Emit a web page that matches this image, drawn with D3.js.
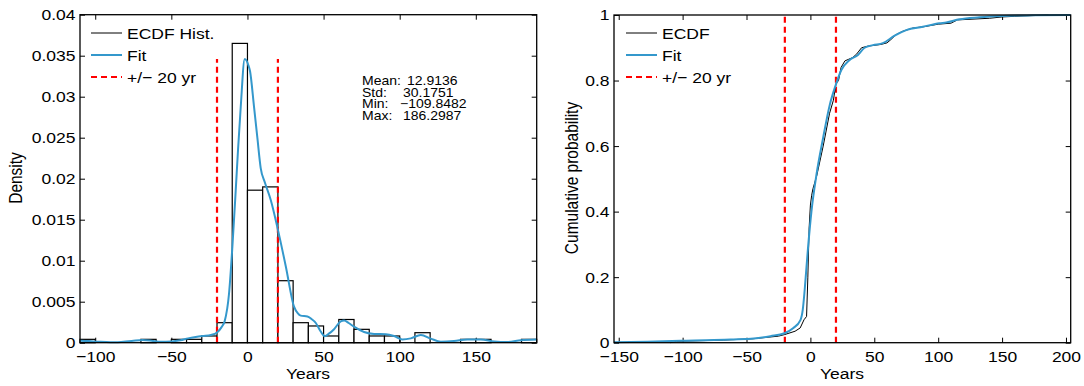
<!DOCTYPE html>
<html>
<head>
<meta charset="utf-8">
<script src="https://cdn.jsdelivr.net/npm/d3@7"></script>
<style>
  body { margin: 0; background: #fff; }
  text { font-family: "Liberation Sans", Arial, Helvetica, sans-serif; fill: #000; }
</style>
</head>
<body>
<svg id="fig" width="1084" height="386"></svg>
<script>
// ---- data ----
var binStart = [-110, -100, -90, -80, -70, -60, -50, -40, -30, -20, -10, 0, 10, 20, 30,
                40, 50, 60, 70, 80, 90, 100, 110, 120, 130, 140, 150, 160, 170, 180];
var binDensity = [0.00041, 0, 0, 0, 0.00041, 0, 0.00041, 0.00041, 0.00082, 0.00244,
                  0.0365, 0.0186, 0.0190, 0.00756, 0.00244, 0.00204, 0.00082, 0.00283, 0.00163, 0.00082,
                  0.00082, 0, 0.00122, 0, 0, 0.00041, 0.00041, 0, 0, 0.00041];
var binWidth = 10;

var fitYears = [-110, -104, -98, -90, -83, -76, -69, -63, -57, -50, -44, -39, -34, -29.6, -24,
                -20, -17, -15, -12.1, -9.9, -7.7, -6.2, -4.4, -1.8, 0.5, 1.7, 4.3, 6.5, 8.7, 11.5,
                15.3, 20.1, 25.2, 30.6, 33, 35, 39.4, 42, 44.9, 48, 50.8, 53.5, 56.9, 61.3, 63.5,
                66.5, 70, 76.6, 83.2, 90.9, 96.3, 101.8, 107.3, 113.9, 120.4, 127, 135.7, 144.5,
                153.3, 162, 170.8, 179.6, 190];
var fitDensity = [0.00025, 0.0002, 0.00012, 0.00005, 0.0001, 0.0002, 0.00033, 0.00025, 0.00012, 0.00015,
                  0.0003, 0.00053, 0.0007, 0.00082, 0.00095, 0.00125, 0.0019, 0.0026, 0.006, 0.0117,
                  0.0186, 0.0235, 0.0288, 0.0346, 0.0339, 0.0331, 0.0288, 0.025, 0.0213, 0.0195,
                  0.0174, 0.0137, 0.0093, 0.0044, 0.0036, 0.0033, 0.0032, 0.0029, 0.0024, 0.0014,
                  0.0008, 0.0011, 0.00165, 0.0026, 0.0027, 0.0024, 0.00195, 0.0013, 0.00106, 0.00104,
                  0.00082, 0.0004, 0.00053, 0.00094, 0.0005, 0.00012, 0.0002, 0.0004, 0.0004, 0.00015,
                  0.00008, 0.0003, 0.0004];

var ecdfYears = [-109.8, -105, -68, -45, -35, -25, -20, -12, -8, -5, -3, -2, -1, 0, 1, 2, 5, 10, 15, 18,
                 20, 22, 24, 27, 30, 33, 36, 38, 40, 45, 55, 60, 63, 67, 72, 80, 90, 100, 110, 115,
                 140, 150, 160, 186.3];
var ecdfProb = [0, 0.004, 0.008, 0.012, 0.016, 0.02, 0.025, 0.035, 0.045, 0.07, 0.08, 0.2, 0.35, 0.42,
                0.45, 0.47, 0.51, 0.6, 0.7, 0.74, 0.79, 0.8, 0.84, 0.86, 0.865, 0.87, 0.88, 0.89, 0.9,
                0.905, 0.91, 0.915, 0.925, 0.94, 0.95, 0.96, 0.965, 0.972, 0.975, 0.985, 0.99, 0.994,
                0.996, 1.0];

var cdfYears = [-153.7, -127.6, -101.6, -75.5, -62.5, -44.3, -31.3, -20.3, -13.6, -7.8, -6, -4.5, -1.9,
                0.8, 4.7, 9.9, 15.1, 19.8, 24.2, 30.7, 37.2, 42.4, 48.9, 56.7, 65.9, 75, 88, 101,
                106.3, 116.6, 132.3, 150.5, 173.7, 203.7];
var cdfProb = [0.001, 0.003, 0.006, 0.008, 0.010, 0.013, 0.02, 0.0287, 0.044, 0.069, 0.1, 0.16, 0.288,
               0.40, 0.512, 0.624, 0.725, 0.786, 0.832, 0.863, 0.878, 0.90, 0.908, 0.914, 0.937, 0.954,
               0.964, 0.975, 0.977, 0.987, 0.993, 0.997, 0.999, 1.0];

var bandYears = [-20, 20];
var statLabels = ["Mean:", "Std:", "Min:", "Max:"];
var statValues = ["12.9136", "30.1751", "\u2212109.8482", "186.2987"];

var histXTicks = [-100, -50, 0, 50, 100, 150];
var histYTicks = [0, 0.005, 0.01, 0.015, 0.02, 0.025, 0.03, 0.035, 0.04];
var cdfXTicks = [-150, -100, -50, 0, 50, 100, 150, 200];
var cdfYTicks = [0, 0.2, 0.4, 0.6, 0.8, 1];

var histLegend = ["ECDF Hist.", "Fit", "+/\u2212 20 yr"];
var cdfLegend = ["ECDF", "Fit", "+/\u2212 20 yr"];

// ---- styling ----
var sx = 1.13;   // the reference figure is stretched horizontally
var blue = "#3498cc", red = "#ff0000";
var tickFont = 15.5;

var svg = d3.select("#fig");

function numFmt(d) {
  return d < 0 ? "\u2212" + Math.abs(d) : String(+d.toFixed(3));
}

function frame(x, y, xt, yt) {
  var g = svg.append("g");
  var x0 = x.range()[0], x1 = x.range()[1], y0 = y.range()[0], y1 = y.range()[1];

  g.append("g").attr("transform", `translate(0,${y0})`)
    .call(d3.axisBottom(x).tickValues(xt).tickSize(-5).tickSizeOuter(0).tickPadding(8).tickFormat(numFmt));
  g.append("g").attr("transform", `translate(0,${y1})`)
    .call(d3.axisTop(x).tickValues(xt).tickSize(-5).tickSizeOuter(0).tickFormat(""));
  g.append("g").attr("transform", `translate(${x0},0)`)
    .call(d3.axisLeft(y).tickValues(yt).tickSize(-5).tickSizeOuter(0).tickPadding(4).tickFormat(numFmt));
  g.append("g").attr("transform", `translate(${x1},0)`)
    .call(d3.axisRight(y).tickValues(yt).tickSize(-5).tickSizeOuter(0).tickFormat(""));

  g.selectAll(".domain").remove();
  g.selectAll(".tick line").attr("stroke", "#000").attr("stroke-width", 1);
  g.selectAll(".tick text")
    .style("font-size", tickFont + "px")
    .attr("fill", "#000")
    .attr("transform", `scale(${sx},1)`);
  return g;
}

function border(x, y) {
  svg.append("rect")
    .attr("x", x.range()[0]).attr("y", y.range()[1])
    .attr("width", x.range()[1] - x.range()[0])
    .attr("height", y.range()[0] - y.range()[1])
    .attr("fill", "none").attr("stroke", "#000").attr("stroke-width", 1.3);
}

function label(txt, px, py, size, rotate, anchor) {
  svg.append("text")
    .attr("transform", `translate(${px},${py}) scale(${sx},1)` + (rotate ? " rotate(-90)" : ""))
    .attr("text-anchor", anchor || "middle")
    .style("font-size", size + "px")
    .text(txt);
}

function legend(names, lx, ly) {
  var rows = [{stroke: "#000", w: 1, dash: null},
              {stroke: blue, w: 2, dash: null},
              {stroke: red, w: 2, dash: "6,4"}];
  rows.forEach(function(r, i) {
    var yy = ly + i * 22;
    svg.append("line")
      .attr("x1", lx).attr("x2", lx + 31).attr("y1", yy).attr("y2", yy)
      .attr("stroke", r.stroke).attr("stroke-width", r.w)
      .attr("stroke-dasharray", r.dash);
    label(names[i], lx + 36, yy + 5.5, tickFont, false, "start");
  });
}

// ================= left: histogram =================
var xH = d3.scaleLinear().domain([-110, 190]).range([80, 536.7]);
var yH = d3.scaleLinear().domain([0, 0.04]).range([342.7, 14.7]);

var bins = binStart.map((s, i) => ({start: s, d: binDensity[i]}));

frame(xH, yH, histXTicks, histYTicks);

svg.append("g").selectAll("rect")
  .data(bins.filter(b => b.d > 0))
  .enter()
  .append("rect")
  .attr("x", b => xH(b.start))
  .attr("width", b => xH(b.start + binWidth) - xH(b.start))
  .attr("y", b => yH(b.d))
  .attr("height", b => yH(0) - yH(b.d))
  .attr("fill", "#fff")
  .attr("stroke", "#000")
  .attr("stroke-width", 1.2);

var fitPeak = d3.max(fitDensity);
svg.append("g").selectAll("line")
  .data(bandYears)
  .enter()
  .append("line")
  .attr("x1", d => xH(d)).attr("x2", d => xH(d))
  .attr("y1", yH(0)).attr("y2", yH(fitPeak))
  .attr("stroke", red).attr("stroke-width", 2.2)
  .attr("stroke-dasharray", "6,4");

var fitLine = d3.line()
  .x((d, i) => xH(fitYears[i]))
  .y(d => yH(d))
  .curve(d3.curveMonotoneX);

svg.append("path")
  .datum(fitDensity)
  .attr("d", fitLine)
  .attr("fill", "none")
  .attr("stroke", blue)
  .attr("stroke-width", 2);

border(xH, yH);

legend(histLegend, 91, 33);

// stats text: labels left, values tab-aligned
var statValueX = [407, 403, 400, 403];
statLabels.forEach(function(s, i) {
  var yy = 85 + i * 11.6;
  label(s, 362, yy, 12.4, false, "start");
  label(statValues[i], statValueX[i], yy, 12.4, false, "start");
});

label("Density", 22, 178, tickFont, true);
label("Years", 308, 379, tickFont);

// ================= right: cumulative =================
var xC = d3.scaleLinear().domain([-153.7, 203.7]).range([614, 1070.7]);
var yC = d3.scaleLinear().domain([0, 1]).range([342.7, 15]);

frame(xC, yC, cdfXTicks, cdfYTicks);

svg.append("g").selectAll("line")
  .data(bandYears)
  .enter()
  .append("line")
  .attr("x1", d => xC(d)).attr("x2", d => xC(d))
  .attr("y1", yC(0)).attr("y2", yC(1))
  .attr("stroke", red).attr("stroke-width", 2.2)
  .attr("stroke-dasharray", "6,4");

svg.append("path")
  .datum(ecdfProb)
  .attr("d", d3.line().x((d, i) => xC(ecdfYears[i])).y(d => yC(d)))
  .attr("fill", "none")
  .attr("stroke", "#000")
  .attr("stroke-width", 1);

svg.append("path")
  .datum(cdfProb)
  .attr("d", d3.line().x((d, i) => xC(cdfYears[i])).y(d => yC(d)).curve(d3.curveMonotoneX))
  .attr("fill", "none")
  .attr("stroke", blue)
  .attr("stroke-width", 2);

border(xC, yC);

legend(cdfLegend, 626, 33);

label("Cumulative probability", 578, 178, tickFont, true);
label("Years", 842, 379, tickFont);
</script>
</body>
</html>
